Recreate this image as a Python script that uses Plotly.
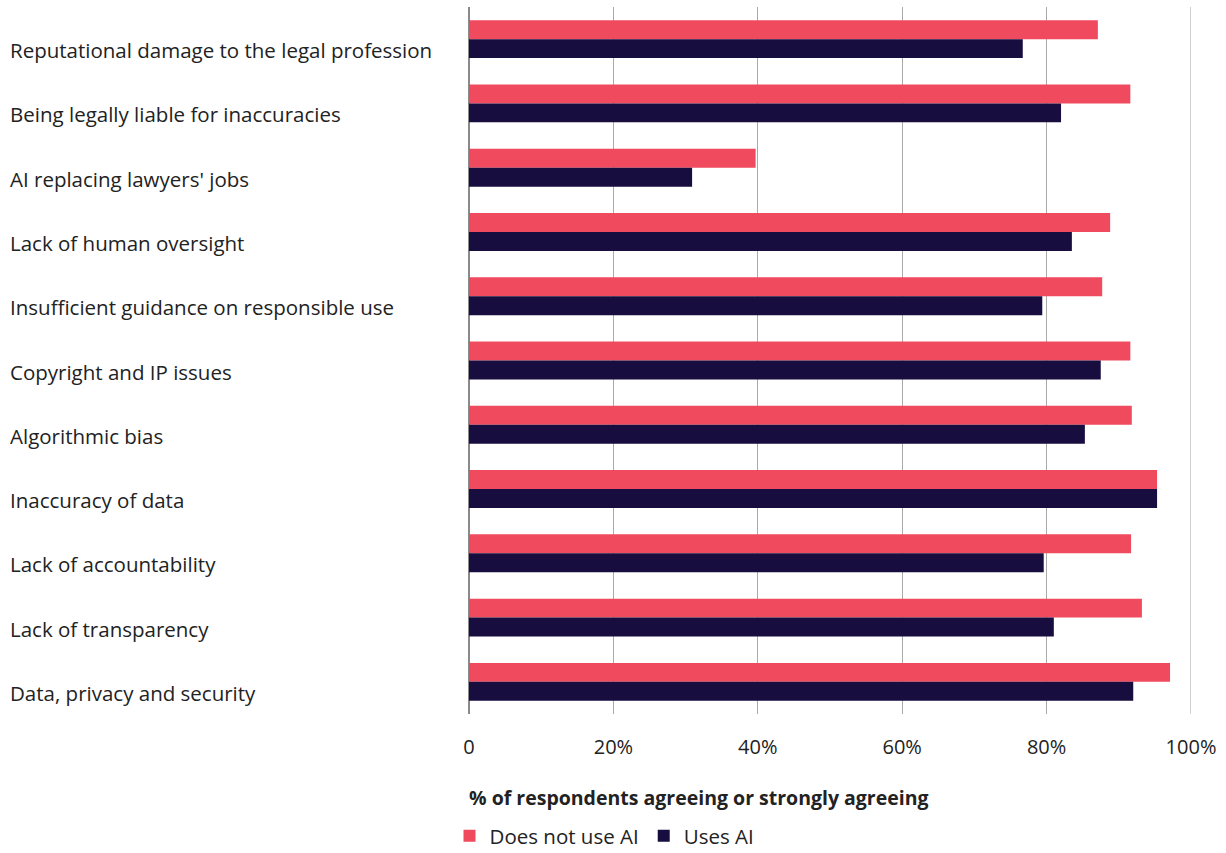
import plotly.graph_objects as go

# Concerns about AI, share of respondents agreeing or strongly agreeing
categories = [
    "Reputational damage to the legal profession",
    "Being legally liable for inaccuracies",
    "AI replacing lawyers' jobs",
    "Lack of human oversight",
    "Insufficient guidance on responsible use",
    "Copyright and IP issues",
    "Algorithmic bias",
    "Inaccuracy of data",
    "Lack of accountability",
    "Lack of transparency",
    "Data, privacy and security",
]
does_not_use_ai = [87.1, 91.6, 39.7, 88.8, 87.7, 91.6, 91.8, 95.3, 91.7, 93.2, 97.1]
uses_ai = [76.7, 82.0, 30.9, 83.5, 79.4, 87.5, 85.3, 95.3, 79.6, 81.0, 92.0]

tick_vals = [0, 20, 40, 60, 80, 100]
tick_text = ["0", "20%", "40%", "60%", "80%", "100%"]

PINK = "#EF4A5E"
NAVY = "#180D3F"
FONT = "Open Sans"
TEXT = "#222222"

fig = go.Figure()
fig.add_trace(go.Bar(y=categories, x=does_not_use_ai, orientation="h",
                     name="Does not use AI", marker=dict(color=PINK, line_width=0)))
fig.add_trace(go.Bar(y=categories, x=uses_ai, orientation="h",
                     name="Uses AI", marker=dict(color=NAVY, line_width=0)))

# left-aligned category labels, sitting slightly below each bar pair's centre
annotations = [
    dict(x=-0.6357, y=c, xref="paper", yref="y", text=c, showarrow=False,
         xanchor="left", yanchor="middle", yshift=-11, xshift=-2,
         font=dict(family=FONT, size=20.5, color=TEXT))
    for c in categories
]
annotations.append(dict(
    x=0, y=-0.1174, xref="paper", yref="paper",
    text="<b>% of respondents agreeing or strongly agreeing</b>",
    showarrow=False, xanchor="left", yanchor="middle", xshift=-2,
    font=dict(family=FONT, size=19.5, color=TEXT)))

fig.update_layout(
    width=1226, height=853,
    margin=dict(l=469, r=35, t=7, b=139, autoexpand=False),
    paper_bgcolor="white", plot_bgcolor="white",
    barmode="group", bargap=0.41, bargroupgap=0,
    font=dict(family=FONT, size=18, color=TEXT),
    annotations=annotations,
    showlegend=True,
    legend=dict(orientation="h", x=-0.027, xanchor="left",
                yref="container", y=0.02, yanchor="middle",
                font=dict(family=FONT, size=20.5, color=TEXT),
                itemwidth=30, tracegroupgap=0, bgcolor="rgba(0,0,0,0)"),
    shapes=[dict(type="line", xref="x", yref="paper", x0=100, x1=100, y0=0, y1=1,
                 line=dict(color="#D0D0D0", width=2), layer="below")],
)
fig.update_xaxes(range=[0, 100], tickvals=tick_vals, ticktext=tick_text,
                 showgrid=True, gridcolor="#AAAAAA", gridwidth=1,
                 zeroline=True, zerolinecolor="#8A8A8A", zerolinewidth=1.5,
                 showline=False, ticks="", ticklabelstandoff=19, automargin=False,
                 tickfont=dict(family=FONT, size=20, color=TEXT), fixedrange=True)
fig.update_yaxes(autorange="reversed", showticklabels=False, showgrid=False,
                 showline=False, ticks="", automargin=False, fixedrange=True)

fig.write_html("out.html")
